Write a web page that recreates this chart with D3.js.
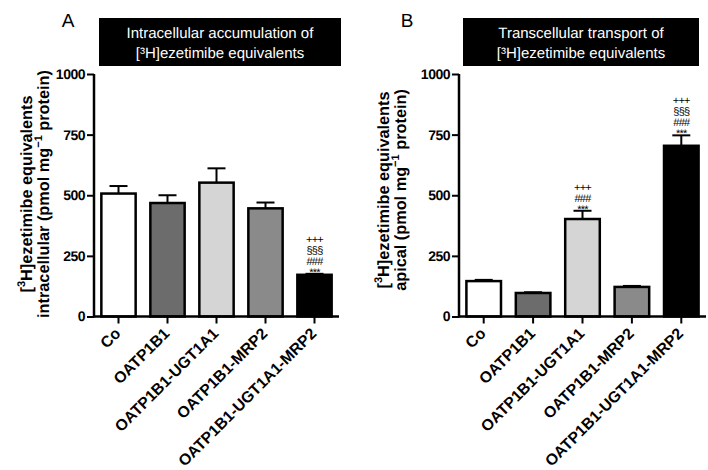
<!DOCTYPE html>
<html><head><meta charset="utf-8">
<script src="https://cdn.jsdelivr.net/npm/d3@7"></script>
<style>body{margin:0;background:#fff} svg{display:block}</style>
</head><body>
<script>
const categories = ["Co","OATP1B1","OATP1B1-UGT1A1","OATP1B1-MRP2","OATP1B1-UGT1A1-MRP2"];
const intracellularMean = [507,468,552,446,172];
const intracellularSem = [31,32,59,24,4];
const apicalMean = [146,97,402,122,704];
const apicalSem = [5,3,34,4,43];
const intracellularMarks = [[],[],[],[],["***","###","§§§","+++"]];
const apicalMarks = [[],[],["***","###","+++"],[],["***","###","§§§","+++"]];
const yTicks = [0,250,500,750,1000];
const barFills = ["#ffffff","#6c6c6c","#d5d5d5","#8a8a8a","#000000"];

const W = 708, H = 470;
const FONT = "'Liberation Sans', Arial, sans-serif";
const svg = d3.select("body").append("svg").attr("width", W).attr("height", H)
  .style("font-family", FONT).attr("text-rendering","geometricPrecision");

const panels = [
  { letter:"A", letterX:68, box:[99,341], title:["Intracellular accumulation of","[³H]ezetimibe equivalents"],
    left:94, right:339, mean:intracellularMean, sem:intracellularSem, marks:intracellularMarks,
    labelX:[26,43], labelY:194,
    label2:[{t:"intracellular (pmol mg"},{t:"−1",sup:true},{t:" protein)"}] },
  { letter:"B", letterX:407, box:[463,699], title:["Transcellular transport of","[³H]ezetimibe equivalents"],
    left:459, right:706, mean:apicalMean, sem:apicalSem, marks:apicalMarks,
    labelX:[383,400], labelY:190,
    label2:[{t:"apical (pmol mg"},{t:"−1",sup:true},{t:" protein)"}] }
];
const label1 = [{t:"["},{t:"3",sup:true},{t:"H]ezetimibe equivalents"}];

function fitSize(text, weight, target){
  const t = svg.append("text").attr("font-size",20).attr("font-weight",weight).text(text);
  const len = t.node().getComputedTextLength();
  t.remove();
  return 20*target/len;
}
const ySize = fitSize("intracellular (pmol mg−1 protein)", "bold", 254);
const xSize = fitSize("OATP1B1-UGT1A1-MRP2", "bold", 188);

function richText(sel, parts, size){
  parts.forEach((p,i)=>{
    const ts = sel.append("tspan").text(p.t);
    if (p.sup) { ts.attr("font-size", size*0.68).attr("dy", -size*0.42); }
    else if (i>0 && parts[i-1].sup) { ts.attr("dy", size*0.42); }
  });
}

panels.forEach(p=>{
  const y = d3.scaleLinear().domain([0,1000]).range([316.5,74]);
  const x = d3.scaleBand().domain(categories).range([p.left,p.right]).paddingInner(0.3).paddingOuter(0.15);
  const g = svg.append("g");

  g.append("text").attr("x", p.letterX).attr("y", 27).attr("text-anchor","middle")
    .attr("font-size", 19).text(p.letter);

  g.append("rect").attr("x", p.box[0]).attr("y", 18).attr("width", p.box[1]-p.box[0]).attr("height", 48).attr("fill","#000");
  p.title.forEach((t,i)=>{
    g.append("text").attr("x",(p.box[0]+p.box[1])/2).attr("y", 38+i*20).attr("text-anchor","middle")
      .attr("fill","#fff").attr("font-size",15).text(t);
  });

  g.selectAll("rect.bar").data(categories).join("rect").attr("class","bar")
    .attr("x", d=>x(d)).attr("width", x.bandwidth())
    .attr("y", (d,i)=>y(p.mean[i])).attr("height",(d,i)=>y(0)-y(p.mean[i]))
    .attr("fill",(d,i)=>barFills[i]).attr("stroke","#000").attr("stroke-width",2.5);

  categories.forEach((c,i)=>{
    const cx = x(c)+x.bandwidth()/2;
    const top = y(p.mean[i]+p.sem[i]);
    g.append("line").attr("x1",cx).attr("x2",cx).attr("y1",y(p.mean[i])).attr("y2",top).attr("stroke","#000").attr("stroke-width",2);
    g.append("line").attr("x1",cx-9).attr("x2",cx+9).attr("y1",top).attr("y2",top).attr("stroke","#000").attr("stroke-width",2);
    if (p.marks[i].length) {
      const mt = g.append("text").attr("text-anchor","middle").attr("font-size",11).attr("letter-spacing",-0.8);
      p.marks[i].forEach((m,k)=>{
        mt.append("tspan").attr("x",cx).attr(k===0?"y":"dy", k===0 ? top+2 : -11).text(m);
      });
    }
  });

  const ya = g.append("g").attr("transform",`translate(${p.left},0)`)
    .call(d3.axisLeft(y).tickValues(yTicks).tickSize(7).tickPadding(2).tickFormat(d3.format("d")));
  ya.select(".domain").attr("stroke-width",2.5).attr("d",`M0,${y(1000)}V${y(0)+1}`);
  ya.selectAll(".tick line").attr("stroke-width",2);
  ya.selectAll(".tick text").attr("font-size",14).attr("font-weight","bold").attr("font-family",FONT).attr("letter-spacing",-0.5);

  const xa = g.append("g").attr("transform",`translate(0,${y(0)})`)
    .call(d3.axisBottom(x).tickSize(7).tickFormat(""));
  xa.select(".domain").attr("stroke-width",2.5).attr("d",`M${p.left},0H${p.right}`);
  xa.selectAll(".tick line").attr("stroke-width",2);
  categories.forEach(c=>{
    const cx = x(c)+x.bandwidth()/2;
    g.append("text").attr("transform",`translate(${cx+3},${y(0)+18}) rotate(-45)`)
      .attr("text-anchor","end").attr("font-size",xSize).attr("font-weight","bold").text(c);
  });

  const t1 = g.append("text").attr("transform",`translate(${p.labelX[0]},${p.labelY}) rotate(-90)`)
    .attr("text-anchor","middle").attr("dy","0.35em").attr("font-size",ySize).attr("font-weight","bold");
  richText(t1, label1, ySize);
  const t2 = g.append("text").attr("transform",`translate(${p.labelX[1]},${p.labelY}) rotate(-90)`)
    .attr("text-anchor","middle").attr("dy","0.35em").attr("font-size",ySize).attr("font-weight","bold");
  richText(t2, p.label2, ySize);
});
</script>
</body></html>
